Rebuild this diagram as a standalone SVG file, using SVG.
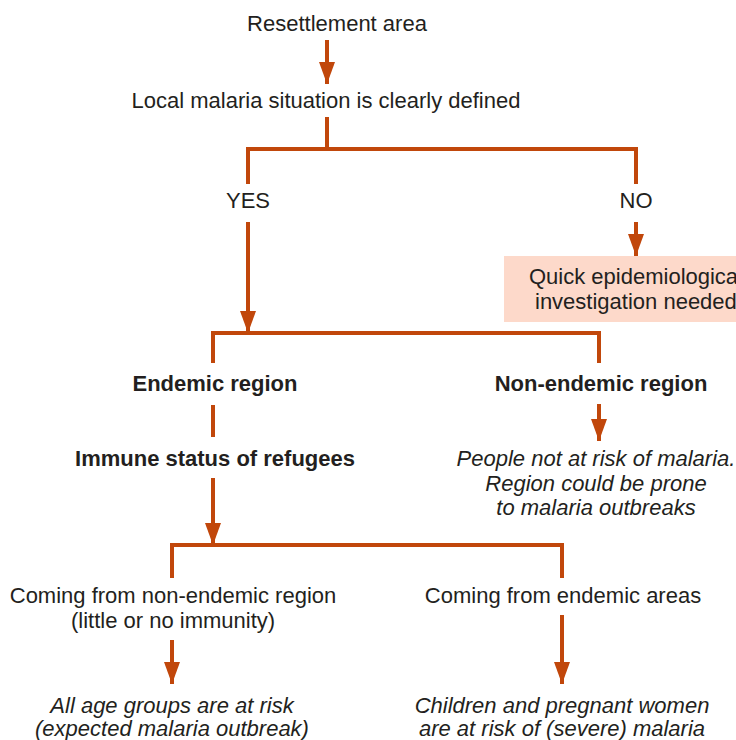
<svg xmlns="http://www.w3.org/2000/svg" width="736" height="740" viewBox="0 0 736 740">
<style>
text{font-family:"Liberation Sans",Arial,sans-serif;font-size:22px;fill:#231f20;text-anchor:middle}
.b{font-weight:bold}
.i{font-style:italic}
.c{fill:none;stroke:#c1470b;stroke-width:4}
</style>
<defs>
<marker id="ah" markerUnits="userSpaceOnUse" markerWidth="22" markerHeight="16" refX="22" refY="8" orient="auto" viewBox="0 0 22 16">
<path d="M0,0 L22,8 L0,16 Z" fill="#c1470b"/>
</marker>
</defs>
<rect x="0" y="0" width="736" height="740" fill="#fff"/>
<g id="connectors">
<line class="c" x1="327" y1="40" x2="327" y2="84" marker-end="url(#ah)"/>
<polyline class="c" points="327,117 327,149"/>
<polyline class="c" points="248,184 248,149 636,149 636,184"/>
<line class="c" x1="248" y1="222" x2="248" y2="333" marker-end="url(#ah)"/>
<line class="c" x1="636" y1="222" x2="636" y2="256" marker-end="url(#ah)"/>
<polyline class="c" points="213,363 213,333 599,333 599,363"/>
<line class="c" x1="213" y1="405" x2="213" y2="437"/>
<line class="c" x1="599" y1="404" x2="599" y2="441" marker-end="url(#ah)"/>
<line class="c" x1="213" y1="478" x2="213" y2="545" marker-end="url(#ah)"/>
<polyline class="c" points="172,578 172,545 562,545 562,578"/>
<line class="c" x1="172" y1="640" x2="172" y2="684" marker-end="url(#ah)"/>
<line class="c" x1="562" y1="615" x2="562" y2="684" marker-end="url(#ah)"/>
</g>
<g id="resettlement"><text x="337" y="31">Resettlement area</text></g>
<g id="local"><text x="326" y="108">Local malaria situation is clearly defined</text></g>
<g id="yes"><text x="248" y="208">YES</text></g>
<g id="no"><text x="636" y="208">NO</text></g>
<g id="quick">
<rect x="504" y="256" width="232" height="66" fill="#fdd9ca"/>
<text x="529" y="284" style="text-anchor:start">Quick epidemiological</text>
<text x="535" y="309" style="text-anchor:start">investigation needed</text>
</g>
<g id="endemic"><text class="b" x="215" y="391">Endemic region</text></g>
<g id="nonendemic"><text class="b" x="601" y="391">Non-endemic region</text></g>
<g id="immune"><text class="b" x="215" y="466">Immune status of refugees</text></g>
<g id="notatrisk">
<text class="i" x="596" y="466">People not at risk of malaria.</text>
<text class="i" x="596" y="491">Region could be prone</text>
<text class="i" x="596" y="515">to malaria outbreaks</text>
</g>
<g id="fromnon">
<text x="173" y="603">Coming from non-endemic region</text>
<text x="173" y="628">(little or no immunity)</text>
</g>
<g id="fromendemic"><text x="563" y="603">Coming from endemic areas</text></g>
<g id="allage">
<text class="i" x="172" y="713">All age groups are at risk</text>
<text class="i" x="172" y="736">(expected malaria outbreak)</text>
</g>
<g id="children">
<text class="i" x="562" y="713">Children and pregnant women</text>
<text class="i" x="562" y="736">are at risk of (severe) malaria</text>
</g>
</svg>
